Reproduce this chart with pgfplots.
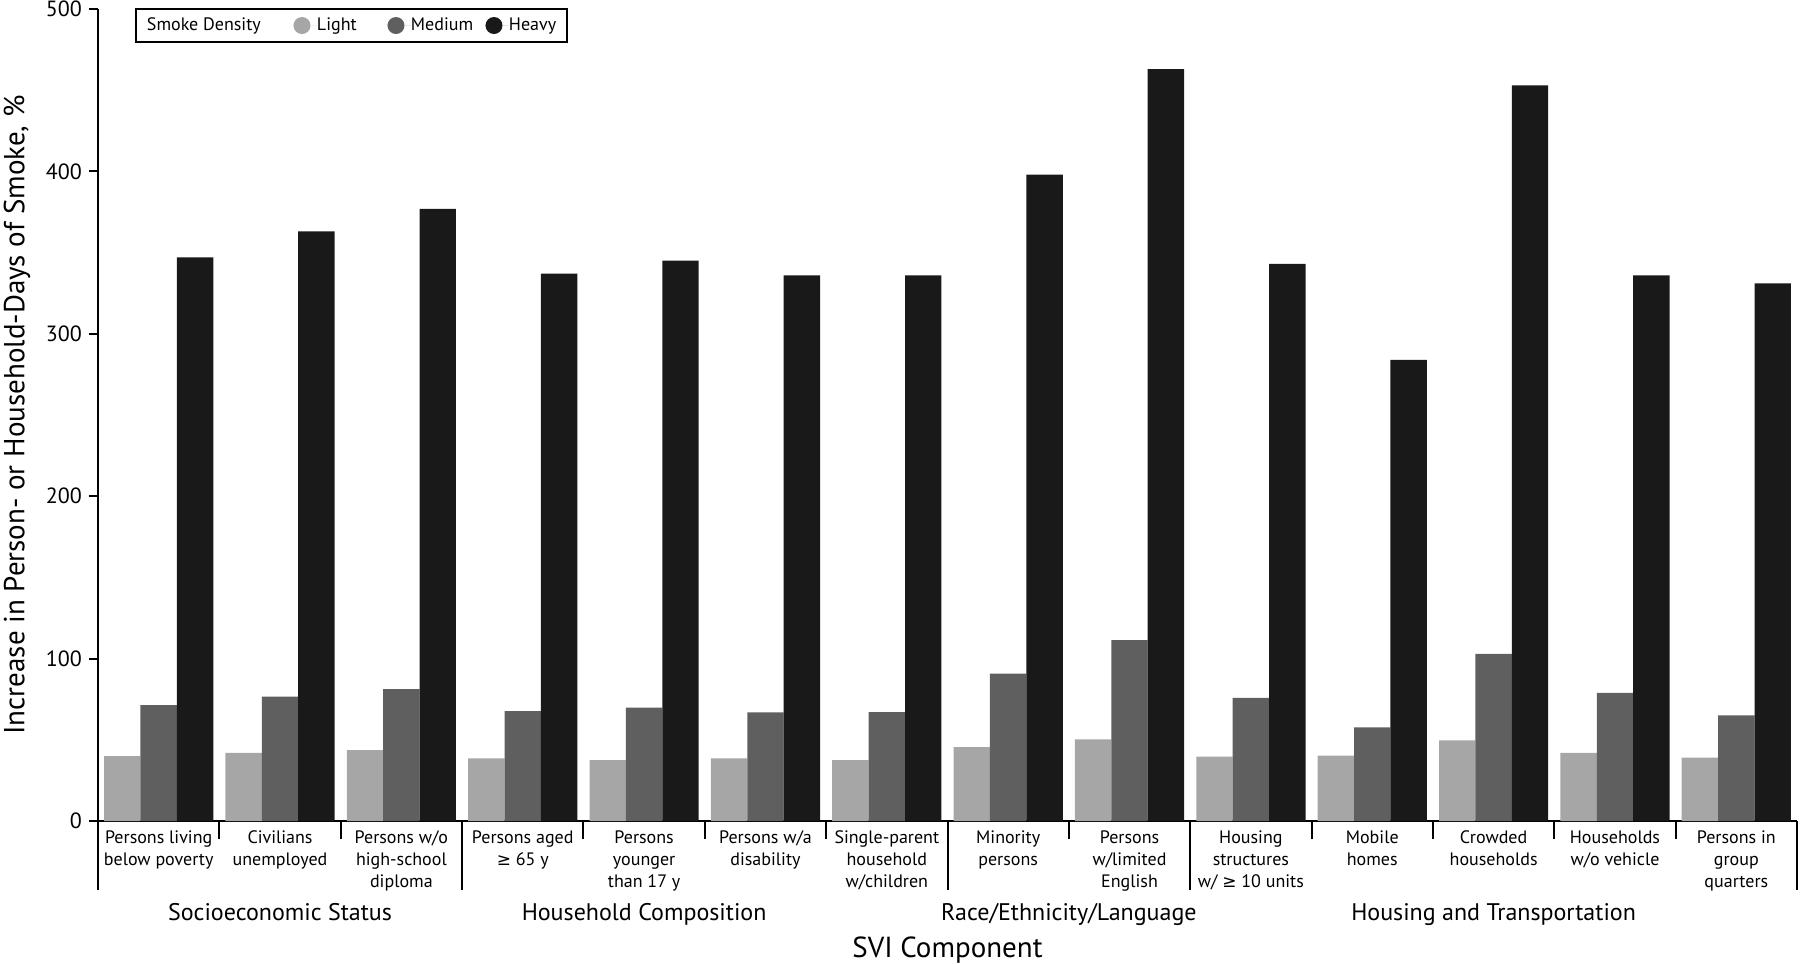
\documentclass[border=0pt]{standalone}
\usepackage{fontspec}
\setmainfont{PT Sans}
\newfontfamily\symf{DejaVu Sans}
\usepackage{pgfplots}
\usepackage{pgfplotstable}
\pgfplotsset{compat=1.18}

\definecolor{lightc}{HTML}{A6A6A6}
\definecolor{medc}{HTML}{5F5F5F}
\definecolor{heavyc}{HTML}{191919}

% increase in person- or household-days of smoke, %
\pgfplotstableread{
idx light medium heavy
0  40.0  71.4 347
1  42.0  76.6 363
2  43.7  81.2 377
3  38.5  67.7 337
4  37.5  69.8 345
5  38.5  66.9 336
6  37.5  67.0 336
7  45.5  90.7 398
8  50.3 111.4 463
9  39.6  75.8 343
10 40.2  57.6 284
11 49.7 102.9 453
12 42.0  78.9 336
13 39.1  65.0 331
}\svidata

\newcommand{\legdot}[1]{\fill[#1] (4.25pt,0pt) circle (4.25pt); \path (0pt,0pt) -- (11.75pt,0pt);}
\newcommand{\geqs}{{\symf\fontsize{8.5}{11}\selectfont ≥}}

\begin{document}
\begin{tikzpicture}
\begin{axis}[
    scale only axis,
    width=849.5pt, height=406pt,
    xmin=-0.5, xmax=13.5, ymin=0, ymax=500,
    enlarge x limits=false,
    clip=false,
    axis x line*=bottom, axis y line*=left,
    axis line style={-, line width=1pt, black},
    every tick/.style={black, line width=1pt},
    tick align=outside,
    major tick length=0pt,
    minor tick length=9pt,
    ybar=0pt, bar width=18.2pt,
    ytick={0,100,...,500},
    extra y ticks={0,100,...,500},
    extra y tick labels={},
    extra y tick style={major tick length=4.5pt},
    yticklabel style={font=\fontsize{11}{13}\selectfont, xshift=-4.5pt},
    /pgf/number format/assume math mode=true,
    xtick={0,...,13},
    minor xtick={0.5,1.5,3.5,4.5,5.5,7.5,9.5,10.5,11.5,12.5},
    extra x ticks={-0.5,2.5,6.5,8.5,13.5},
    extra x tick labels={},
    extra x tick style={major tick length=34.5pt},
    xticklabels={
        {Persons living\\below poverty},
        {Civilians\\unemployed},
        {Persons w/o\\high-school\\diploma},
        {Persons aged\\\geqs{} 65 y},
        {Persons\\younger\\than 17 y},
        {Persons w/a\\disability},
        {Single-parent\\household\\w/children},
        {Minority\\persons},
        {Persons\\w/limited\\English},
        {Housing\\structures\\w/ \geqs{} 10 units},
        {Mobile\\homes},
        {Crowded\\households},
        {Households\\w/o vehicle},
        {Persons in\\group\\quarters}},
    xticklabel style={font=\fontsize{9}{11}\selectfont, align=center,
        anchor=north, inner sep=0pt, yshift=-4.5pt},
    xlabel={SVI Component},
    xlabel style={at={(axis description cs:0.5,-0.1675)}, anchor=base,
        font=\fontsize{14.5}{16}\selectfont},
    ylabel={Increase in Person- or Household-Days of Smoke, \%},
    ylabel style={at={(axis description cs:-0.0477,0.5)}, anchor=center,
        font=\fontsize{14.5}{16}\selectfont},
    legend columns=-1,
    legend style={at={(0.02178,1.0012)}, anchor=north west,
        draw=black, line width=1pt, inner xsep=5.5pt, inner ysep=4pt,
        font=\fontsize{9}{11}\selectfont,
        cells={anchor=west},
        nodes={inner sep=0pt},
        /tikz/column sep=0pt},
]
\addlegendimage{empty legend}
\addlegendentry{\makebox[73.25pt][l]{Smoke Density}}
\addplot[fill=lightc, draw=none, legend image code/.code={\legdot{lightc}}]
    table[x=idx, y=light]{\svidata};
\addlegendentry{\makebox[35.25pt][l]{Light}}
\addplot[fill=medc, draw=none, legend image code/.code={\legdot{medc}}]
    table[x=idx, y=medium]{\svidata};
\addlegendentry{\makebox[37.25pt][l]{Medium}}
\addplot[fill=heavyc, draw=none, legend image code/.code={\legdot{heavyc}}]
    table[x=idx, y=heavy]{\svidata};
\addlegendentry{Heavy}

\coordinate (O) at (rel axis cs:0,0);
\coordinate (T) at (rel axis cs:1,1);

% group names under the tick labels
\node[anchor=base, font=\fontsize{12}{14}\selectfont] at ([yshift=-49.5pt]axis cs:1,0) {Socioeconomic Status};
\node[anchor=base, font=\fontsize{12}{14}\selectfont] at ([yshift=-49.5pt]axis cs:4,0) {Household Composition};
\node[anchor=base, font=\fontsize{12}{14}\selectfont] at ([yshift=-49.5pt]axis cs:7.5,0) {Race/Ethnicity/Language};
\node[anchor=base, font=\fontsize{12}{14}\selectfont] at ([yshift=-49.5pt]axis cs:11,0) {Housing and Transportation};
\end{axis}
\pgfresetboundingbox
\useasboundingbox ([shift={(-49pt,-71.5pt)}]O) rectangle ([shift={(1.5pt,4.5pt)}]T);
\end{tikzpicture}
\end{document}
